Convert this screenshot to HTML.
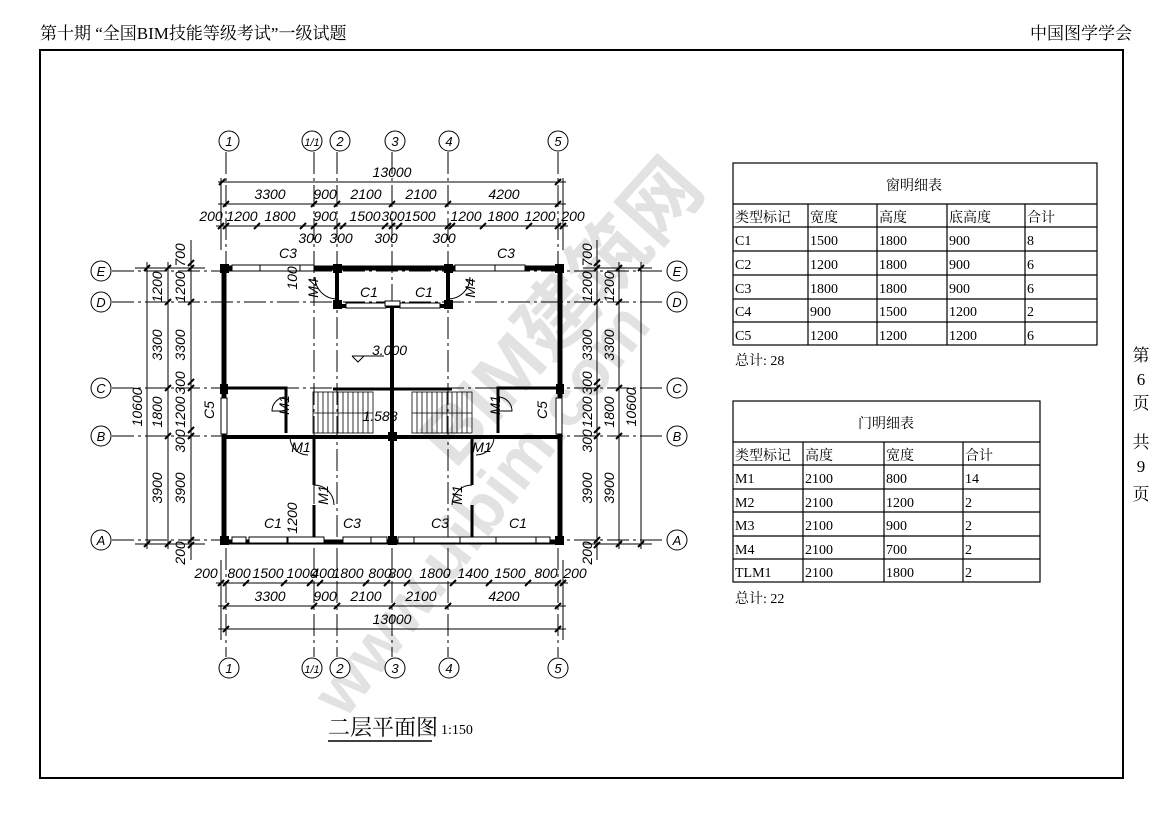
<!DOCTYPE html>
<html><head><meta charset="utf-8"><style>
html,body{margin:0;padding:0;background:#fff;}
svg{display:block;}
.d{font-family:"Liberation Sans Narrow","Liberation Sans",sans-serif;font-style:italic;font-size:14px;fill:#000;}
.t{font-family:"Liberation Serif","Noto Serif CJK SC",serif;font-size:14px;fill:#000;}
.h{font-family:"Liberation Serif","Noto Serif CJK SC",serif;font-size:17px;fill:#000;}
.ax{font-family:"Liberation Sans",sans-serif;font-style:italic;font-size:13px;fill:#000;}
</style></head><body>
<svg width="1169" height="826" viewBox="0 0 1169 826" xmlns="http://www.w3.org/2000/svg">
<rect width="1169" height="826" fill="#fff"/>
<text class="h" x="40" y="39">第十期 “全国BIM技能等级考试”一级试题</text>
<text class="h" x="1030" y="39">中国图学学会</text>
<rect x="40" y="50" width="1083" height="728" fill="none" stroke="#000" stroke-width="2"/>
<g class="h" font-size="15" text-anchor="middle">
<text x="1141" y="361">第</text><text x="1141" y="385">6</text><text x="1141" y="409">页</text>
<text x="1141" y="448">共</text><text x="1141" y="472">9</text><text x="1141" y="500">页</text>
</g>

<!-- watermark -->
<g fill="#e2e2e2" font-family="Liberation Sans,'Noto Sans CJK SC',sans-serif" font-weight="bold">
<text x="0" y="0" font-size="78" transform="translate(455,470) rotate(-48)">BIM建筑网</text>
<text x="0" y="0" font-size="66" transform="translate(345,720) rotate(-52)">www.uibim.com</text>
</g>

<g stroke="#000" stroke-width="1" stroke-dasharray="22,4,3,4">
<line x1="226" y1="152" x2="226" y2="657"/>
<line x1="314" y1="152" x2="314" y2="657"/>
<line x1="337" y1="152" x2="337" y2="657"/>
<line x1="392" y1="152" x2="392" y2="657"/>
<line x1="448" y1="152" x2="448" y2="657"/>
<line x1="558" y1="152" x2="558" y2="657"/>
<line x1="112" y1="271" x2="666" y2="271"/>
<line x1="112" y1="302" x2="666" y2="302"/>
<line x1="112" y1="388" x2="666" y2="388"/>
<line x1="112" y1="436" x2="666" y2="436"/>
<line x1="112" y1="540" x2="666" y2="540"/>
</g>
<g fill="#fff" stroke="#000" stroke-width="1">
<circle cx="229" cy="141" r="10"/><circle cx="312" cy="141" r="10"/><circle cx="340" cy="141" r="10"/><circle cx="395" cy="141" r="10"/><circle cx="449" cy="141" r="10"/><circle cx="558" cy="141" r="10"/>
<circle cx="229" cy="668" r="10"/><circle cx="312" cy="668" r="10"/><circle cx="340" cy="668" r="10"/><circle cx="395" cy="668" r="10"/><circle cx="449" cy="668" r="10"/><circle cx="558" cy="668" r="10"/>
<circle cx="101" cy="271" r="10"/><circle cx="101" cy="302" r="10"/><circle cx="101" cy="388" r="10"/><circle cx="101" cy="436" r="10"/><circle cx="101" cy="540" r="10"/>
<circle cx="677" cy="271" r="10"/><circle cx="677" cy="302" r="10"/><circle cx="677" cy="388" r="10"/><circle cx="677" cy="436" r="10"/><circle cx="677" cy="540" r="10"/>
</g>
<g class="ax" text-anchor="middle">
<text x="229" y="146">1</text><text x="312" y="146" font-size="11">1/1</text><text x="340" y="146">2</text><text x="395" y="146">3</text><text x="449" y="146">4</text><text x="558" y="146">5</text>
<text x="229" y="673">1</text><text x="312" y="673" font-size="11">1/1</text><text x="340" y="673">2</text><text x="395" y="673">3</text><text x="449" y="673">4</text><text x="558" y="673">5</text>
<text x="101" y="276">E</text><text x="101" y="307">D</text><text x="101" y="393">C</text><text x="101" y="441">B</text><text x="101" y="545">A</text>
<text x="677" y="276">E</text><text x="677" y="307">D</text><text x="677" y="393">C</text><text x="677" y="441">B</text><text x="677" y="545">A</text>
</g>

<g stroke="#000" stroke-width="1">
<line x1="218" y1="182" x2="566" y2="182"/>
<line x1="218" y1="204" x2="566" y2="204"/>
<line x1="216" y1="226" x2="568" y2="226"/>
<line x1="216" y1="583" x2="568" y2="583"/>
<line x1="218" y1="606" x2="566" y2="606"/>
<line x1="218" y1="629" x2="566" y2="629"/>
<line x1="147" y1="262" x2="147" y2="549"/>
<line x1="168" y1="262" x2="168" y2="549"/>
<line x1="191" y1="240" x2="191" y2="560"/>
<line x1="641" y1="262" x2="641" y2="549"/>
<line x1="619" y1="262" x2="619" y2="549"/>
<line x1="597" y1="240" x2="597" y2="560"/>
<line x1="135" y1="268" x2="205" y2="268"/><line x1="135" y1="544" x2="205" y2="544"/>
<line x1="583" y1="268" x2="652" y2="268"/><line x1="583" y1="544" x2="652" y2="544"/>
<line x1="221" y1="178" x2="221" y2="250"/><line x1="563" y1="178" x2="563" y2="250"/>
<line x1="221" y1="560" x2="221" y2="640"/><line x1="563" y1="560" x2="563" y2="640"/>
</g>
<g stroke="#000" stroke-width="2">
<path d="M219 185l6-6M555 185l6-6
M223 207l6-6M311 207l6-6M334 207l6-6M389 207l6-6M445 207l6-6M555 207l6-6
M218 229l6-6M223 229l6-6M254 229l6-6M300 229l6-6M311 229l6-6M334 229l6-6M340 229l6-6M382 229l6-6M389 229l6-6M396 229l6-6M445 229l6-6M449 229l6-6M480 229l6-6M526 229l6-6M555 229l6-6M560 229l6-6
M218 586l6-6M223 586l6-6M243 586l6-6M281 586l6-6M307 586l6-6M317 586l6-6M363 586l6-6M384 586l6-6M404 586l6-6M450 586l6-6M486 586l6-6M525 586l6-6M555 586l6-6M560 586l6-6
M223 609l6-6M311 609l6-6M334 609l6-6M389 609l6-6M445 609l6-6M555 609l6-6
M223 632l6-6M555 632l6-6
M144 271l6-6M144 547l6-6
M165 271l6-6M165 305l6-6M165 391l6-6M165 439l6-6M165 547l6-6
M188 266l6-6M188 271l6-6M188 305l6-6M188 385l6-6M188 391l6-6M188 433l6-6M188 439l6-6M188 543l6-6M188 548l6-6
M638 271l6-6M638 547l6-6
M616 271l6-6M616 305l6-6M616 391l6-6M616 439l6-6M616 547l6-6
M594 266l6-6M594 271l6-6M594 305l6-6M594 385l6-6M594 391l6-6M594 433l6-6M594 439l6-6M594 543l6-6M594 548l6-6"/>
</g>
<g class="d" text-anchor="middle">
<text x="392" y="177">13000</text>
<text x="270" y="199">3300</text><text x="325" y="199">900</text><text x="366" y="199">2100</text><text x="421" y="199">2100</text><text x="504" y="199">4200</text>
<text x="211" y="221">200</text><text x="242" y="221">1200</text><text x="280" y="221">1800</text><text x="325" y="221">900</text><text x="365" y="221">1500</text><text x="393" y="221">300</text><text x="420" y="221">1500</text><text x="466" y="221">1200</text><text x="503" y="221">1800</text><text x="540" y="221">1200</text><text x="573" y="221">200</text>
<text x="310" y="243">300</text><text x="341" y="243">300</text><text x="386" y="243">300</text><text x="444" y="243">300</text>
<text x="206" y="578">200</text><text x="239" y="578">800</text><text x="268" y="578">1500</text><text x="302" y="578">1000</text><text x="323" y="578">400</text><text x="348" y="578">1800</text><text x="380" y="578">800</text><text x="400" y="578">800</text><text x="435" y="578">1800</text><text x="473" y="578">1400</text><text x="510" y="578">1500</text><text x="546" y="578">800</text><text x="575" y="578">200</text>
<text x="270" y="601">3300</text><text x="325" y="601">900</text><text x="366" y="601">2100</text><text x="421" y="601">2100</text><text x="504" y="601">4200</text>
<text x="392" y="624">13000</text>
</g>
<g class="d" text-anchor="middle">
<text transform="translate(142,407) rotate(-90)">10600</text>
<text transform="translate(162,287) rotate(-90)">1200</text>
<text transform="translate(162,345) rotate(-90)">3300</text>
<text transform="translate(162,412) rotate(-90)">1800</text>
<text transform="translate(162,488) rotate(-90)">3900</text>
<text transform="translate(185,255) rotate(-90)">700</text>
<text transform="translate(185,287) rotate(-90)">1200</text>
<text transform="translate(185,345) rotate(-90)">3300</text>
<text transform="translate(185,383) rotate(-90)">300</text>
<text transform="translate(185,412) rotate(-90)">1200</text>
<text transform="translate(185,441) rotate(-90)">300</text>
<text transform="translate(185,488) rotate(-90)">3900</text>
<text transform="translate(185,553) rotate(-90)">200</text>
<text transform="translate(636,407) rotate(-90)">10600</text>
<text transform="translate(614,287) rotate(-90)">1200</text>
<text transform="translate(614,345) rotate(-90)">3300</text>
<text transform="translate(614,412) rotate(-90)">1800</text>
<text transform="translate(614,488) rotate(-90)">3900</text>
<text transform="translate(592,255) rotate(-90)">700</text>
<text transform="translate(592,287) rotate(-90)">1200</text>
<text transform="translate(592,345) rotate(-90)">3300</text>
<text transform="translate(592,383) rotate(-90)">300</text>
<text transform="translate(592,412) rotate(-90)">1200</text>
<text transform="translate(592,441) rotate(-90)">300</text>
<text transform="translate(592,488) rotate(-90)">3900</text>
<text transform="translate(592,553) rotate(-90)">200</text>
</g>

<g stroke="#000" fill="none">
<rect x="224" y="268" width="336" height="274" stroke-width="5"/>
<path d="M337 268V306H448V268" stroke-width="4"/>
<path d="M392 306V542" stroke-width="4"/>
<path d="M226 388H286V433M498 433V388H558" stroke-width="3"/>
<path d="M333 389H392H452" stroke-width="3"/>
<path d="M226 437H558" stroke-width="4"/>
<path d="M314 437V485M314 505V540M472 437V485M472 505V540" stroke-width="3"/>
</g>
<g fill="#fff" stroke="#000" stroke-width="1">
<rect x="232" y="265" width="28" height="6"/><rect x="260" y="265" width="40" height="6"/><rect x="300" y="265" width="14" height="6"/>
<rect x="455" y="265" width="40" height="6"/><rect x="495" y="265" width="30" height="6"/>
<rect x="346" y="303" width="40" height="5"/><rect x="400" y="303" width="40" height="5"/><rect x="385" y="301" width="15" height="5"/>
<rect x="232" y="537" width="14" height="6"/><rect x="249" y="537" width="38" height="6"/><rect x="288" y="537" width="36" height="6"/>
<rect x="343" y="537" width="28" height="6"/><rect x="371" y="537" width="16" height="6"/>
<rect x="398" y="537" width="16" height="6"/><rect x="414" y="537" width="46" height="6"/><rect x="460" y="537" width="36" height="6"/><rect x="496" y="537" width="40" height="6"/><rect x="536" y="537" width="14" height="6"/>
<rect x="221" y="398" width="6" height="36"/><rect x="556" y="398" width="6" height="36"/>
</g>
<g fill="#000">
<rect x="220" y="264" width="9" height="9"/><rect x="555" y="264" width="9" height="9"/>
<rect x="333" y="264" width="9" height="9"/><rect x="444" y="264" width="9" height="9"/>
<rect x="333" y="300" width="9" height="9"/><rect x="444" y="300" width="9" height="9"/>
<rect x="220" y="384" width="8" height="10"/><rect x="556" y="384" width="8" height="10"/>
<rect x="388" y="432" width="9" height="9"/>
<rect x="220" y="536" width="9" height="9"/><rect x="555" y="536" width="9" height="9"/><rect x="388" y="536" width="9" height="9"/>
</g>
<g stroke="#000" stroke-width="0.8" fill="none">
<rect x="313" y="392" width="60" height="41"/>
<rect x="412" y="392" width="60" height="41"/>
<path d="M313 413H373M412 413H472"/>
<path d="M318 392V433M323 392V433M328 392V433M333 392V433M338 392V433M343 392V433M348 392V433M353 392V433M358 392V433M363 392V433M368 392V433
M417 392V433M422 392V433M427 392V433M432 392V433M437 392V433M442 392V433M447 392V433M452 392V433M457 392V433M462 392V433M467 392V433"/>
</g>
<g stroke="#000" stroke-width="1" fill="none">
<path d="M286 397A14 14 0 0 0 272 411H286"/>
<path d="M498 397A14 14 0 0 1 512 411H498"/>
<path d="M290 437A18 18 0 0 0 308 455"/>
<path d="M494 437A18 18 0 0 1 476 455"/>
<path d="M314 485A20 20 0 0 1 334 505"/>
<path d="M472 485A20 20 0 0 0 452 505"/>
<path d="M315 277A22 22 0 0 0 337 299"/>
<path d="M470 277A22 22 0 0 1 448 299"/>
</g>
<g class="d" font-size="11" text-anchor="middle">
<text x="288" y="258">C3</text><text x="506" y="258">C3</text>
<text x="369" y="297">C1</text><text x="424" y="297">C1</text>
<text x="273" y="528">C1</text><text x="352" y="528">C3</text><text x="440" y="528">C3</text><text x="518" y="528">C1</text>
<text x="372" y="355" text-anchor="start">3.000</text>
<text x="380" y="421">1.588</text>
<text transform="translate(214,410) rotate(-90)">C5</text>
<text transform="translate(547,410) rotate(-90)">C5</text>
<text transform="translate(289,405) rotate(-90)">M1</text>
<text transform="translate(500,405) rotate(-90)">M1</text>
<text x="301" y="452">M1</text><text x="482" y="452">M1</text>
<text transform="translate(328,495) rotate(-90)">M1</text>
<text transform="translate(462,495) rotate(-90)">M1</text>
<text transform="translate(318,288) rotate(-90)">M4</text>
<text transform="translate(475,288) rotate(-90)">M4</text>
<text transform="translate(297,278) rotate(-90)">100</text>
<text transform="translate(297,518) rotate(-90)">1200</text>
</g>
<path d="M352 356H384M352 356L358 362L364 356" stroke="#000" fill="none" stroke-width="1"/>

<text x="328" y="735" font-family="Liberation Serif,'Noto Serif CJK SC',serif" font-size="22">二层平面图</text>
<line x1="328" y1="741" x2="432" y2="741" stroke="#000" stroke-width="1.5"/>
<text x="441" y="734" class="t" font-size="14">1:150</text>

<g stroke="#000" stroke-width="1.2" fill="none">
<rect x="733" y="163" width="364" height="182"/>
<path d="M733 204H1097M733 227H1097M733 251H1097M733 275H1097M733 299H1097M733 322H1097"/>
<path d="M808 204V345M877 204V345M947 204V345M1025 204V345"/>
<rect x="733" y="401" width="307" height="181"/>
<path d="M733 442H1040M733 465H1040M733 489H1040M733 512H1040M733 536H1040M733 559H1040"/>
<path d="M803 442V582M884 442V582M963 442V582"/>
</g>
<g class="t">
<text x="914" y="190" text-anchor="middle">窗明细表</text>
<text x="735" y="222">类型标记</text><text x="810" y="222">宽度</text><text x="879" y="222">高度</text><text x="949" y="222">底高度</text><text x="1027" y="222">合计</text>
<text x="735" y="245">C1</text><text x="810" y="245">1500</text><text x="879" y="245">1800</text><text x="949" y="245">900</text><text x="1027" y="245">8</text>
<text x="735" y="269">C2</text><text x="810" y="269">1200</text><text x="879" y="269">1800</text><text x="949" y="269">900</text><text x="1027" y="269">6</text>
<text x="735" y="293">C3</text><text x="810" y="293">1800</text><text x="879" y="293">1800</text><text x="949" y="293">900</text><text x="1027" y="293">6</text>
<text x="735" y="316">C4</text><text x="810" y="316">900</text><text x="879" y="316">1500</text><text x="949" y="316">1200</text><text x="1027" y="316">2</text>
<text x="735" y="340">C5</text><text x="810" y="340">1200</text><text x="879" y="340">1200</text><text x="949" y="340">1200</text><text x="1027" y="340">6</text>
<text x="735" y="365">总计: 28</text>
<text x="886" y="428" text-anchor="middle">门明细表</text>
<text x="735" y="460">类型标记</text><text x="805" y="460">高度</text><text x="886" y="460">宽度</text><text x="965" y="460">合计</text>
<text x="735" y="483">M1</text><text x="805" y="483">2100</text><text x="886" y="483">800</text><text x="965" y="483">14</text>
<text x="735" y="507">M2</text><text x="805" y="507">2100</text><text x="886" y="507">1200</text><text x="965" y="507">2</text>
<text x="735" y="530">M3</text><text x="805" y="530">2100</text><text x="886" y="530">900</text><text x="965" y="530">2</text>
<text x="735" y="554">M4</text><text x="805" y="554">2100</text><text x="886" y="554">700</text><text x="965" y="554">2</text>
<text x="735" y="577">TLM1</text><text x="805" y="577">2100</text><text x="886" y="577">1800</text><text x="965" y="577">2</text>
<text x="735" y="603">总计: 22</text>
</g>
</svg>
</body></html>
